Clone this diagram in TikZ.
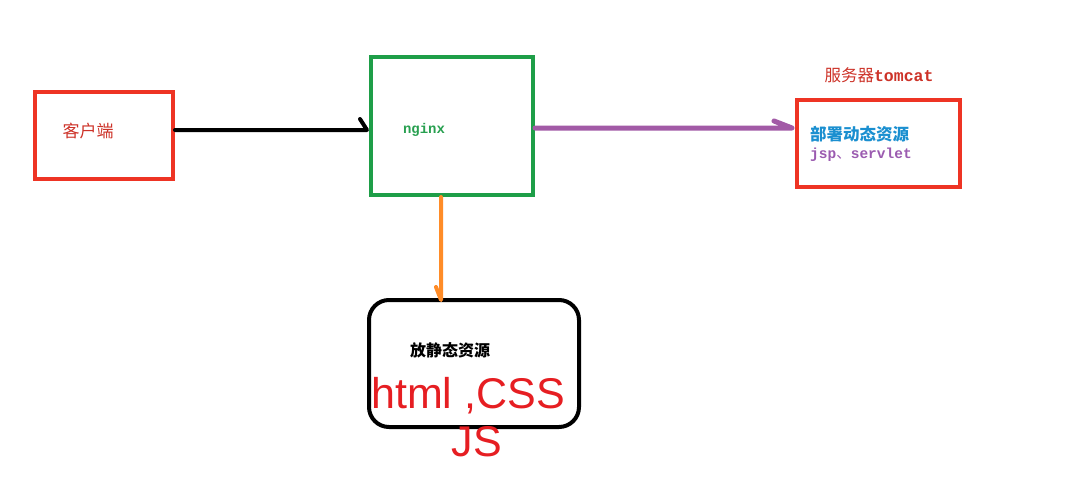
\documentclass[tikz,border=0pt]{standalone}
\usepackage{fontspec}
\setmainfont{Liberation Sans}
\newfontfamily\cjk{Noto Sans CJK SC}
\newfontfamily\mono{Liberation Mono}
\newfontfamily\hand{Liberation Sans}
\definecolor{boxred}{RGB}{238,52,36}
\definecolor{boxgreen}{RGB}{30,158,72}
\definecolor{txtgreen}{RGB}{40,160,80}
\definecolor{txtred}{RGB}{205,50,40}
\definecolor{txtblue}{RGB}{26,143,208}
\definecolor{txtpurple}{RGB}{155,91,176}
\definecolor{arrpurple}{RGB}{162,90,166}
\definecolor{arrorange}{RGB}{255,140,40}
\definecolor{handred}{RGB}{230,30,34}
\tikzset{
  boxst/.style={draw, line width=4pt, inner sep=0pt},
  conn/.style={line width=4pt, line cap=round, line join=round},
}
\begin{document}
\begin{tikzpicture}[x=1pt,y=-1pt]
\useasboundingbox[fill=white] (0,0) rectangle (1091,477);
% boxes
\node[boxst, boxred, minimum width=138pt, minimum height=87pt] (client) at (104,135.5) {};
\node[boxst, boxgreen, minimum width=162pt, minimum height=138pt] (nginx) at (452,126) {};
\node[boxst, boxred, minimum width=163pt, minimum height=87pt] (tomcat) at (878.5,143.5) {};
\node[boxst, black, rounded corners=20pt, minimum width=210pt, minimum height=127pt] (static) at (474,363.5) {};
% texts
\node[text=txtred, font=\cjk\fontsize{17}{19}\selectfont] (tclient) at (88,131) {客户端};
\node[text=txtgreen, font=\mono\bfseries\fontsize{14}{16}\selectfont] (tnginx) at (424,130) {nginx};
\node[text=txtred, font=\fontsize{16.5}{18}\selectfont, inner sep=0pt] (ttomcat) at (879,75) {{\cjk 服务器}{\mono\bfseries tomcat}};
\node[text=txtblue, font=\cjk\bfseries\fontsize{16.5}{18}\selectfont, anchor=west, inner sep=0pt] (tdyn) at (810,134) {部署动态资源};
\node[text=txtpurple, font=\fontsize{14.5}{16}\selectfont, anchor=west, inner sep=0pt] (tjsp) at (810,155) {{\mono\bfseries jsp}{\cjk 、}{\mono\bfseries servlet}};
\node[text=black, font=\cjk\bfseries\fontsize{16}{18}\selectfont] (tstatic) at (450,350) {放静态资源};
\node[text=handred, font=\hand\fontsize{43}{45}\selectfont, inner sep=0pt] (thtml) at (468,396) {html ,CSS};
\node[text=handred, font=\hand\fontsize{43}{45}\selectfont, inner sep=0pt] (tjs) at (477,442) {JS};
% connectors (line with a single hand-drawn barb at the end)
\draw[conn, black]
  ([yshift=5.5pt]client.east) -- ([xshift=-2pt,yshift=-4pt]nginx.west) -- ++(-7,-11);
\draw[conn, arrpurple, line width=5pt]
  ([yshift=-2pt]nginx.east) -- ([xshift=-3pt,yshift=15.5pt]tomcat.west) -- ++(-18,-7);
\draw[conn, arrorange]
  ([xshift=-11pt]nginx.south) -- ([xshift=-33pt,yshift=-2pt]static.north) -- ++(-5,-13);
\end{tikzpicture}
\end{document}
